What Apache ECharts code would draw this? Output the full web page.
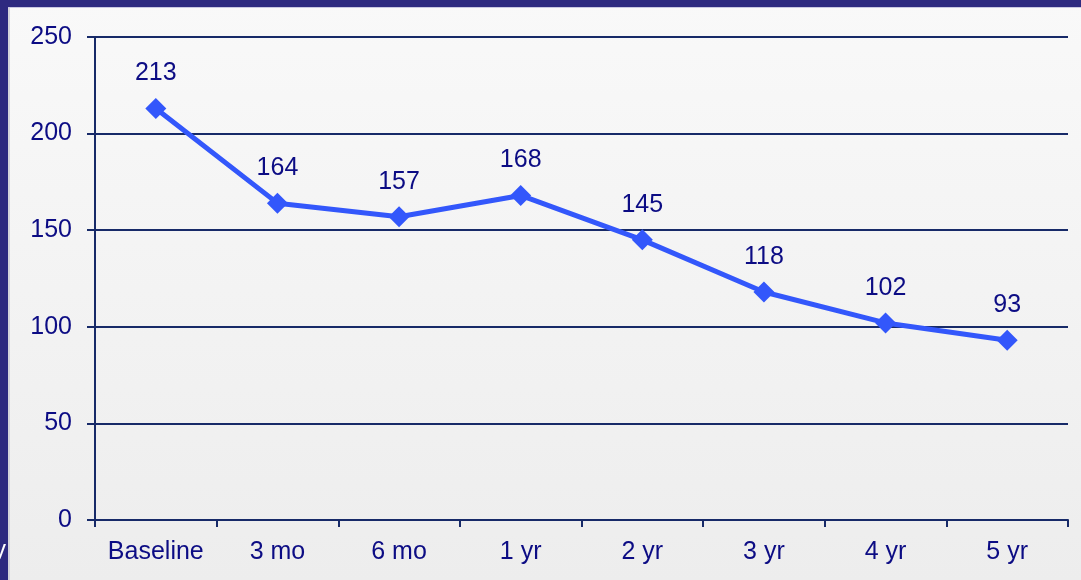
<!DOCTYPE html>
<html>
<head>
<meta charset="utf-8">
<script src="https://cdn.jsdelivr.net/npm/echarts@6/dist/echarts.min.js"></script>
<style>
  html, body { margin: 0; padding: 0; }
  #main { width: 1081px; height: 580px; }
</style>
</head>
<body>
<div id="main"></div>
<script>
// 数据
var categories = ['Baseline', '3 mo', '6 mo', '1 yr', '2 yr', '3 yr', '4 yr', '5 yr'];
var values = [213, 164, 157, 168, 145, 118, 102, 93];
var yTicks = [0, 50, 100, 150, 200, 250];

var myChart = echarts.init(document.getElementById('main'));
var textColor = '#0c0c84';
var axisColor = '#172a68';
var fontFamily = '"Liberation Sans", Arial';

var option = {
    animation: false,
    backgroundColor: {
        type: 'linear', x: 0, y: 0, x2: 0, y2: 1,
        colorStops: [
            { offset: 0, color: '#f9f9f9' },
            { offset: 1, color: '#ededed' }
        ]
    },
    graphic: [
        // 顶部和左侧深色边框
        { type: 'rect', left: 0, top: 0, shape: { width: 1081, height: 7 }, style: { fill: '#2e2a80' } },
        { type: 'rect', left: 0, top: 7, shape: { width: 1081, height: 1 }, style: { fill: '#c9c7e2' } },
        { type: 'rect', left: 0, top: 0, shape: { width: 8, height: 580 }, style: { fill: '#2e2a80' } },
        { type: 'rect', left: 8, top: 8, shape: { width: 2, height: 572 }, style: { fill: '#d6d6dc' } },
        { type: 'text', left: -6, top: 538, style: { text: 'y', fill: '#ffffff', font: '24px "Liberation Sans", Arial' } }
    ],
    grid: {
        left: 95,
        right: 13,
        top: 37,
        bottom: 60,
        containLabel: false
    },
    xAxis: {
        type: 'category',
        data: categories,
        boundaryGap: true,
        axisLine: { show: true, lineStyle: { color: axisColor, width: 2 } },
        axisTick: { show: true, interval: 0, length: 7, lineStyle: { color: axisColor, width: 2 } },
        axisLabel: {
            interval: 0,
            color: textColor,
            fontSize: 25,
            fontFamily: fontFamily,
            margin: 20
        }
    },
    yAxis: {
        type: 'value',
        min: yTicks[0],
        max: yTicks[yTicks.length - 1],
        interval: 50,
        axisLine: { show: true, lineStyle: { color: axisColor, width: 2 } },
        axisTick: { show: true, length: 8, lineStyle: { color: axisColor, width: 2 } },
        splitLine: { show: true, lineStyle: { color: axisColor, width: 2 } },
        axisLabel: {
            color: textColor,
            fontSize: 25,
            fontFamily: fontFamily,
            margin: 23
        }
    },
    series: [
        {
            type: 'line',
            data: values,
            symbol: 'diamond',
            symbolSize: 21,
            lineStyle: { color: '#3357fb', width: 5 },
            itemStyle: { color: '#3357fb' },
            label: {
                show: true,
                position: 'top',
                distance: 12,
                color: textColor,
                fontSize: 25,
                fontFamily: fontFamily
            }
        }
    ]
};

myChart.setOption(option);
</script>
</body>
</html>
